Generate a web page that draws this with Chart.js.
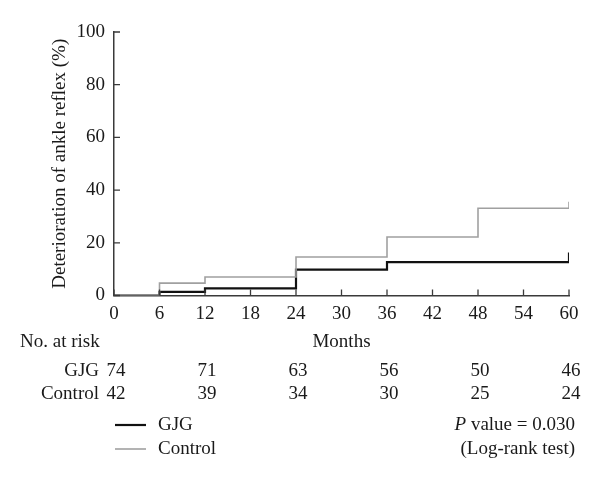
<!DOCTYPE html>
<html>
<head>
<meta charset="utf-8">
<script src="https://cdn.jsdelivr.net/npm/chart.js@4"></script>
<style>
  html, body { margin: 0; padding: 0; background: #fff; }
  canvas { display: block; }
</style>
</head>
<body>
<canvas id="km" width="600" height="481"></canvas>
<script>
// Kaplan-Meier steps (month, % deteriorated)
const gjgMonths = [0, 6, 12, 24, 36, 60, 60]
const gjgPct = [0, 1.35, 2.7, 9.8, 12.7, 12.7, 16.3]
const controlMonths = [0, 6, 12, 24, 36, 48, 60, 60]
const controlPct = [0, 4.7, 7.0, 14.6, 22.2, 33.1, 33.1, 35.6]

// number at risk table
const riskMonths = [0, 12, 24, 36, 48, 60]
const riskGJG = [74, 71, 63, 56, 50, 46]
const riskControl = [42, 39, 34, 30, 25, 24]

const yTicks = [0, 20, 40, 60, 80, 100]
const xTicks = [0, 6, 12, 18, 24, 30, 36, 42, 48, 54, 60]

const FONT = "'Liberation Serif', 'DejaVu Serif', serif"
const SIZE = 19
const TEXT = '#1a1a1a'
const AXIS = '#3a3a3a'
const GJG_COLOR = '#111111'
const CONTROL_COLOR = '#a0a0a0'

const toPoints = (xs, ys) => xs.map((x, i) => ({ x: x, y: ys[i] }))

// ticks point inwards in the reference, so draw them after the axes
const innerTicks = {
  id: 'innerTicks',
  afterDraw(chart) {
    const { ctx, chartArea, scales } = chart
    ctx.save()
    ctx.strokeStyle = AXIS
    ctx.lineWidth = 1.3
    ctx.beginPath()
    xTicks.forEach(v => {
      const px = scales.x.getPixelForValue(v)
      ctx.moveTo(px, chartArea.bottom)
      ctx.lineTo(px, chartArea.bottom - 6)
    })
    yTicks.forEach(v => {
      const py = scales.y.getPixelForValue(v)
      ctx.moveTo(chartArea.left, py)
      ctx.lineTo(chartArea.left + 6, py)
    })
    ctx.stroke()
    ctx.restore()
  }
}

// risk table, legend and p value below the plot
const footer = {
  id: 'footer',
  afterDraw(chart) {
    const { ctx, scales } = chart
    const font = SIZE + 'px ' + FONT
    ctx.save()
    ctx.fillStyle = TEXT
    ctx.font = font
    ctx.textBaseline = 'middle'

    ctx.textAlign = 'left'
    ctx.fillText('No. at risk', 20, 342)

    ctx.textAlign = 'right'
    ctx.fillText('GJG', 99, 371)
    ctx.fillText('Control', 99, 394)

    ctx.textAlign = 'center'
    riskMonths.forEach((m, i) => {
      const px = scales.x.getPixelForValue(m) + 2
      ctx.fillText(String(riskGJG[i]), px, 371)
      ctx.fillText(String(riskControl[i]), px, 394)
    })

    // legend
    const ds = chart.data.datasets
    const rows = [425, 449]
    ds.forEach((d, i) => {
      ctx.strokeStyle = d.borderColor
      ctx.lineWidth = d.borderWidth
      ctx.beginPath()
      ctx.moveTo(115, rows[i])
      ctx.lineTo(146, rows[i])
      ctx.stroke()
      ctx.textAlign = 'left'
      ctx.fillText(d.label, 158, rows[i])
    })

    // p value, with italic P
    ctx.textAlign = 'right'
    const rest = ' value = 0.030'
    ctx.fillText(rest, 575, 425)
    const restW = ctx.measureText(rest).width
    ctx.font = 'italic ' + font
    ctx.fillText('P', 575 - restW, 425)
    ctx.font = font
    ctx.fillText('(Log-rank test)', 575, 449)
    ctx.restore()
  }
}

new Chart(document.getElementById('km'), {
  type: 'line',
  data: {
    datasets: [
      {
        label: 'GJG',
        data: toPoints(gjgMonths, gjgPct),
        borderColor: GJG_COLOR,
        borderWidth: 2.2,
        stepped: 'before',
        pointRadius: 0,
        fill: false,
        order: 2
      },
      {
        label: 'Control',
        data: toPoints(controlMonths, controlPct),
        borderColor: CONTROL_COLOR,
        borderWidth: 1.6,
        stepped: 'before',
        pointRadius: 0,
        fill: false,
        order: 1
      }
    ]
  },
  options: {
    responsive: false,
    animation: false,
    layout: { padding: { left: 0, right: 31, top: 32, bottom: 125.5 } },
    plugins: {
      legend: { display: false },
      tooltip: { enabled: false }
    },
    scales: {
      x: {
        type: 'linear',
        min: 0,
        max: 60,
        afterBuildTicks: s => { s.ticks = xTicks.map(v => ({ value: v })) },
        afterFit: s => { s.height = 60 },
        grid: { display: false },
        border: { display: true, color: AXIS, width: 1.5 },
        ticks: { color: TEXT, font: { family: FONT, size: SIZE }, padding: -1, maxRotation: 0 },
        title: {
          display: true,
          text: 'Months',
          color: TEXT,
          font: { family: FONT, size: SIZE },
          padding: { top: 0, bottom: 2 }
        }
      },
      y: {
        min: 0,
        max: 100,
        afterBuildTicks: s => { s.ticks = yTicks.map(v => ({ value: v })) },
        afterFit: s => { s.width = 114 },
        grid: { display: false },
        border: { display: true, color: AXIS, width: 1.5 },
        ticks: { color: TEXT, font: { family: FONT, size: SIZE }, padding: 1 },
        title: {
          display: true,
          text: 'Deterioration of ankle reflex (%)',
          color: TEXT,
          font: { family: FONT, size: SIZE },
          padding: { top: 49, bottom: 0 }
        }
      }
    }
  },
  plugins: [innerTicks, footer]
})
</script>
</body>
</html>
